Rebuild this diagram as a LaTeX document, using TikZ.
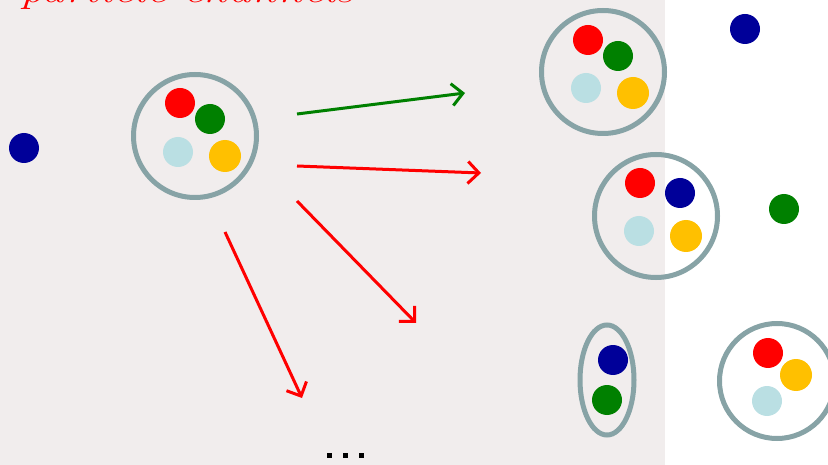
\documentclass[tikz,border=0pt]{standalone}
\usetikzlibrary{arrows.meta}
\definecolor{bgc}{HTML}{F1EDED}
\definecolor{ring}{HTML}{87A3A6}
\definecolor{dblue}{HTML}{000099}
\definecolor{dgreen}{HTML}{008000}
\definecolor{lblue}{HTML}{BADFE3}
\definecolor{yel}{HTML}{FFC000}
\begin{document}
\begin{tikzpicture}[x=1pt,y=-1pt,
  dot/.style={circle,minimum size=30pt,inner sep=0pt,fill=#1},
  bigdot/.style={circle,minimum size=32pt,inner sep=0pt,fill=#1},
  ringc/.style={circle,draw=ring,line width=5pt,inner sep=0pt,minimum size=#1},
  arr/.style={-{Straight Barb[length=11pt,width=22pt,line width=3pt]},line width=3pt}
]
\useasboundingbox (0,0) rectangle (828,465);
\begin{scope}
\clip (0,0) rectangle (828,465);
\fill[bgc] (0,0) rectangle (665,465);
\node[anchor=base west,text=red,font=\itshape\fontsize{36}{36}\selectfont,xscale=1.3] (title) at (16,3) {particle channels};

% left blue dot
\node[dot=dblue] (b0) at (24,148) {};

% source group
\node[ringc=123pt] (g1) at (195,136) {};
\node[dot=red] (r1) at (180,103) {};
\node[dot=dgreen] (gr1) at (210,119) {};
\node[dot=lblue] (lb1) at (178,152) {};
\node[bigdot=yel] (y1) at (225,156) {};

% arrows
\coordinate (a1s) at (297,114); \coordinate (a1e) at (465,93);
\coordinate (a2s) at (297,166); \coordinate (a2e) at (481,173);
\coordinate (a3s) at (297,201); \coordinate (a3e) at (416,323);
\coordinate (a4s) at (225,232); \coordinate (a4e) at (302,398);
\draw[arr,dgreen] (a1s) -- (a1e);
\draw[arr,red] (a2s) -- (a2e);
\draw[arr,red] (a3s) -- (a3e);
\draw[arr,red] (a4s) -- (a4e);

% group 2
\node[ringc=123pt] (g2) at (603,72) {};
\node[dot=red] (r2) at (588,40) {};
\node[dot=dgreen] (gr2) at (618,56) {};
\node[dot=lblue] (lb2) at (586,88) {};
\node[bigdot=yel] (y2) at (633,93) {};
\node[dot=dblue] (b2) at (745,29) {};

% group 3
\node[ringc=123pt] (g3) at (656,216) {};
\node[dot=red] (r3) at (640,183) {};
\node[dot=dblue] (bl3) at (680,193) {};
\node[dot=lblue] (lb3) at (639,231) {};
\node[bigdot=yel] (y3) at (686,236) {};
\node[dot=dgreen] (gr3) at (784,209) {};

% group 4 (ellipse)
\draw[ring,line width=5pt] (607,380) ellipse [x radius=27, y radius=55];
\node[dot=dblue] (bl4) at (613,360) {};
\node[dot=dgreen] (gr4) at (607,400) {};

% group 5
\node[ringc=115pt] (g5) at (777,381) {};
\node[dot=red] (r5) at (768,353) {};
\node[bigdot=yel] (y5) at (796,375) {};
\node[dot=lblue] (lb5) at (767,401) {};

% ellipsis
\foreach \xx in {329,345,361}{\fill[black] (\xx-2.5,452.5) rectangle (\xx+2.5,457.5);}
\end{scope}
\end{tikzpicture}
\end{document}
